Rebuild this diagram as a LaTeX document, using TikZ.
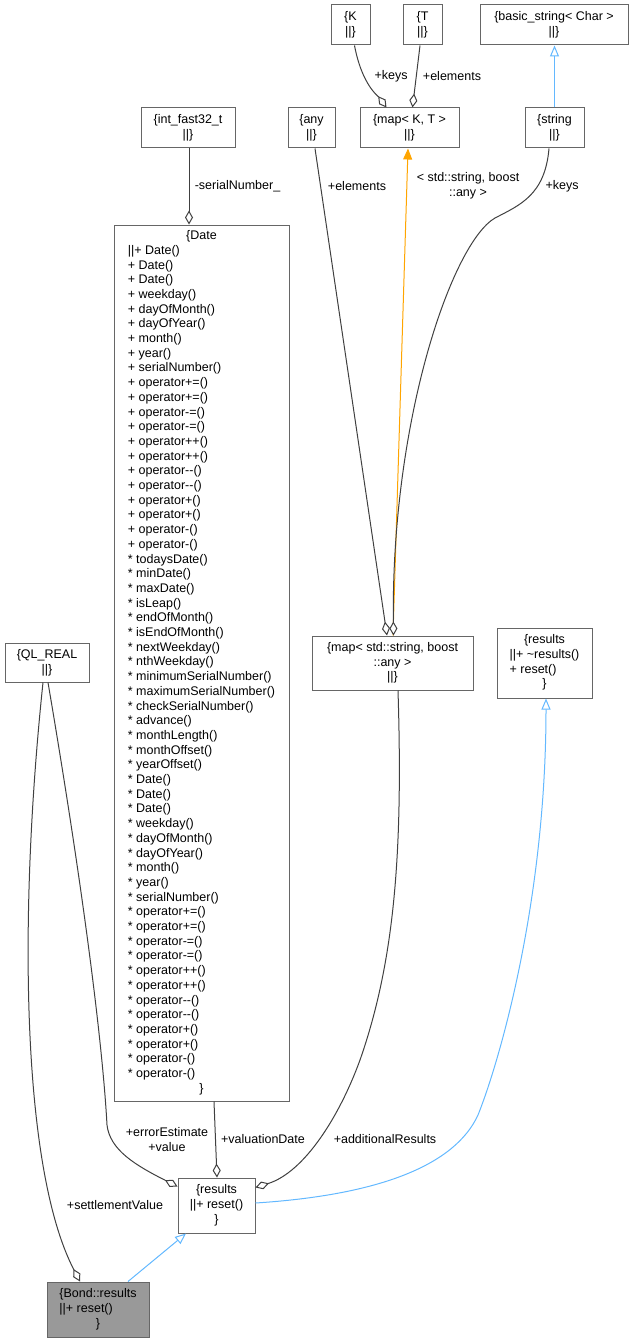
\documentclass[tikz,border=0pt]{standalone}
\usepackage{fontspec}
\setmainfont{Liberation Sans}
\usetikzlibrary{arrows.meta}
\definecolor{boxline}{HTML}{666666}
\definecolor{edgegray}{HTML}{404040}
\definecolor{inhblue}{HTML}{63B8FF}
\definecolor{tmplorange}{HTML}{FFA500}
\definecolor{curfill}{HTML}{999999}
\newcommand{\rowc}[1]{\multicolumn{1}{@{}c@{}}{#1}}

\begin{document}
\begin{tikzpicture}[x=1pt, y=-1pt,
  cls/.style={rectangle, draw=boxline, fill=white, line width=1pt, inner sep=0pt,
    font=\fontsize{12.5}{14.7}\selectfont, align=center},
  lbl/.style={font=\fontsize{12.5}{14.7}\selectfont, inner sep=0pt, align=center},
  uses/.style={draw=edgegray, line width=1pt, -{Diamond[fill=white, length=14pt, width=8pt]}},
  isa/.style={draw=inhblue, line width=1pt, -{Triangle[open, length=11pt, width=9pt]}},
  tmpl/.style={draw=tmplorange, line width=1pt, -{Triangle[length=11pt, width=9pt]}}]
  \useasboundingbox (0,0) rectangle (630,1343);

  \node[cls, minimum width=39, minimum height=40] (k) at (350.5,25) {\{K\\||\}};
  \node[cls, minimum width=39, minimum height=40] (t) at (422.5,25) {\{T\\||\}};
  \node[cls, minimum width=148, minimum height=40] (bstr) at (554,25) {\{basic\_string< Char >\\||\}};
  \node[cls, minimum width=94, minimum height=40] (intf) at (188,128) {\{int\_fast32\_t\\||\}};
  \node[cls, minimum width=47, minimum height=40] (any) at (311.5,128) {\{any\\||\}};
  \node[cls, minimum width=99, minimum height=40] (mapkt) at (409.5,128) {\{map< K, T >\\||\}};
  \node[cls, minimum width=59, minimum height=40] (str) at (554.5,128) {\{string\\||\}};
  \node[cls, minimum width=84, minimum height=39] (qlreal) at (47,662.5) {\{QL\_REAL\\||\}};
  \node[cls, minimum width=161, minimum height=54] (mapsa) at (392.5,663) {\{map< std::string, boost\\::any >\\||\}};
  \node[cls, minimum width=95, minimum height=70] (resa) at (544.5,663) {\begin{tabular}{@{}l@{}}\rowc{\{results}\\||+ \textasciitilde{}results()\\+ reset()\\\rowc{\}}\end{tabular}};
  \node[cls, minimum width=77, minimum height=55] (resb) at (216.5,1205.5) {\begin{tabular}{@{}l@{}}\rowc{\{results}\\||+ reset()\\\rowc{\}}\end{tabular}};
  \node[cls, fill=curfill, minimum width=102, minimum height=55] (bond) at (98,1309.5) {\begin{tabular}{@{}l@{}}\rowc{\{Bond::results}\\||+ reset()\\\rowc{\}}\end{tabular}};
  \node[cls, minimum width=175, minimum height=876] (date) at (201.5,663) {\begin{tabular}{@{}l@{}}\rowc{\{Date}\\
    ||+ Date()\\
    + Date()\\
    + Date()\\
    + weekday()\\
    + dayOfMonth()\\
    + dayOfYear()\\
    + month()\\
    + year()\\
    + serialNumber()\\
    + operator+=()\\
    + operator+=()\\
    + operator-=()\\
    + operator-=()\\
    + operator++()\\
    + operator++()\\
    + operator-{}-()\\
    + operator-{}-()\\
    + operator+()\\
    + operator+()\\
    + operator-()\\
    + operator-()\\
    {*} todaysDate()\\
    {*} minDate()\\
    {*} maxDate()\\
    {*} isLeap()\\
    {*} endOfMonth()\\
    {*} isEndOfMonth()\\
    {*} nextWeekday()\\
    {*} nthWeekday()\\
    {*} minimumSerialNumber()\\
    {*} maximumSerialNumber()\\
    {*} checkSerialNumber()\\
    {*} advance()\\
    {*} monthLength()\\
    {*} monthOffset()\\
    {*} yearOffset()\\
    {*} Date()\\
    {*} Date()\\
    {*} Date()\\
    {*} weekday()\\
    {*} dayOfMonth()\\
    {*} dayOfYear()\\
    {*} month()\\
    {*} year()\\
    {*} serialNumber()\\
    {*} operator+=()\\
    {*} operator+=()\\
    {*} operator-=()\\
    {*} operator-=()\\
    {*} operator++()\\
    {*} operator++()\\
    {*} operator-{}-()\\
    {*} operator-{}-()\\
    {*} operator+()\\
    {*} operator+()\\
    {*} operator-()\\
    {*} operator-()\\
    \rowc{\}}\end{tabular}};

  \node[lbl] (lkeysa) at (391,76) {+keys};
  \node[lbl] (lelema) at (452,76) {+elements};
  \node[lbl] (lserial) at (237.5,186) {-serialNumber\_};
  \node[lbl] (lelemb) at (357,186) {+elements};
  \node[lbl] (ltmpl) at (468,185.5) {< std::string, boost\\::any >};
  \node[lbl] (lkeysb) at (562,186) {+keys};
  \node[lbl] (laddres) at (385,1139) {+additionalResults};
  \node[lbl] (lvaldate) at (263,1139) {+valuationDate};
  \node[lbl] (lerr) at (167,1139.5) {+errorEstimate\\+value};
  \node[lbl] (lsettle) at (115,1205) {+settlementValue};

  \draw[uses] ([xshift=4]k.south) .. controls (362,85) and (378,96) .. ([xshift=-23]mapkt.north);
  \draw[uses] ([xshift=-2.5]t.south) -- ([xshift=3]mapkt.north);
  \draw[isa] (str.north) -- (str.north |- bstr.south);
  \draw[uses] ([xshift=1]intf.south) -- ([xshift=-12.5]date.north);
  \draw[uses] ([xshift=3.5]any.south) -- ([xshift=-5.5]mapsa.north);
  \draw[tmpl] ([xshift=0.5]mapsa.north) -- ([xshift=-1.5]mapkt.south);
  \draw[uses] ([xshift=-5.5]str.south) .. controls (545,195) and (520,205) .. (495,218)
    .. controls (452,243) and (391,420) .. ([xshift=1]mapsa.north);
  \draw[uses] ([xshift=5.5]mapsa.south) .. controls (403,850) and (395,960) .. (360,1060)
    .. controls (340,1115) and (305,1172) .. ([yshift=-10]resb.north east);
  \draw[uses] ([xshift=12.5]date.south) -- ([xshift=0.5]resb.north);
  \draw[uses] ([xshift=1]qlreal.south) .. controls (85,900) and (103,1050) .. (107,1125)
    .. controls (110,1150) and (135,1165) .. ([yshift=-9]resb.north west);
  \draw[uses] ([xshift=-4]qlreal.south) .. controls (18,920) and (22,1170) .. ([xshift=-18]bond.north);
  \draw[isa] ([yshift=2.5]resb.east) .. controls (380,1195) and (455,1165) .. (478,1115)
    .. controls (500,1060) and (546,900) .. ([xshift=1.5]resa.south);
  \draw[isa] ([xshift=30]bond.north) -- ([xshift=-30.5]resb.south);
\end{tikzpicture}
\end{document}
